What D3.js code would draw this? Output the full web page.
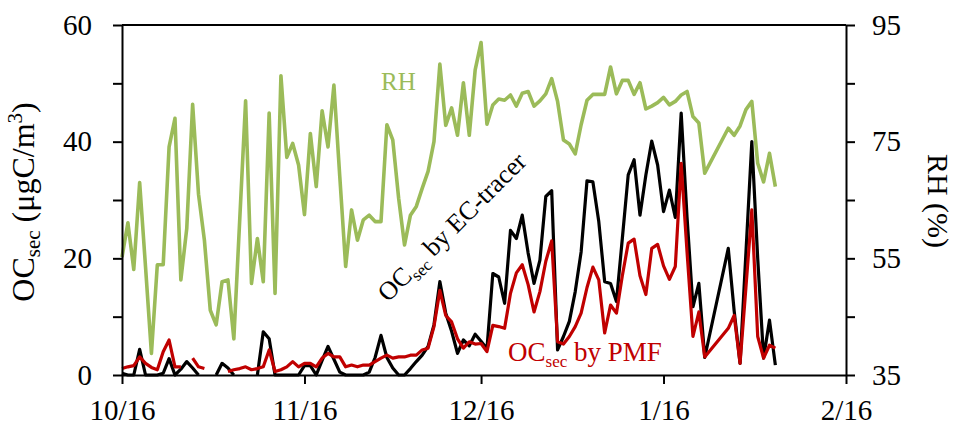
<!DOCTYPE html>
<html>
<head>
<meta charset="utf-8">
<script src="https://cdn.jsdelivr.net/npm/d3@7"></script>
<style>
  body { margin: 0; background: #fff; }
  svg text { font-family: "Liberation Serif", "Times New Roman", serif; }
</style>
</head>
<body>
<div id="chart"></div>
<script>
// day offsets from 10/16 (days 100-102 missing, lines connect across them)
const days = [
  0,1,2,3,4,5,6,7,8,9,10,11,12,13,14,15,16,17,18,19,
  20,21,22,23,24,25,26,27,28,29,30,31,32,33,34,35,36,37,38,39,
  40,41,42,43,44,45,46,47,48,49,50,51,52,53,54,55,56,57,58,59,
  60,61,62,63,64,65,66,67,68,69,70,71,72,73,74,75,76,77,78,79,
  80,81,82,83,84,85,86,87,88,89,90,91,92,93,94,95,96,97,98,99,
  103,104,105,106,107,108,109,110,111
];

// RH (%)
const rh = [
  55.2,61.1,53.1,68.0,53.5,38.7,53.9,53.9,74.1,79.0,
  51.3,60.1,81.4,66.0,58.1,46.1,43.6,51.0,51.3,41.2,
  61.6,82.0,50.7,58.4,51.0,79.9,49.0,86.3,72.3,74.7,
  71.0,62.5,76.4,67.3,80.3,74.1,84.7,69.0,53.6,63.3,
  58.1,61.6,62.4,61.3,61.3,77.9,75.3,65.3,57.3,62.4,
  63.9,67.0,69.9,75.0,88.3,77.8,80.8,76.1,85.1,76.1,
  87.3,92.0,78.0,81.3,82.3,82.1,83.0,81.1,83.3,83.6,
  81.1,82.0,83.2,85.8,81.9,75.3,74.6,72.9,77.9,82.1,
  83.1,83.1,83.1,87.8,83.2,85.5,85.5,83.1,85.1,80.6,
  81.1,81.7,82.6,81.3,81.9,83.0,83.6,79.3,78.2,69.6,
  77.3,76.1,77.7,80.5,81.9,71.3,68.1,73.0,67.3
];

// OCsec by EC-tracer (ugC/m3), null = no data
const ocEC = [
  0.3,0,0,4.4,0,0,0,0.3,2.8,0,
  1.0,2.3,1.2,0,null,null,0,2.0,1.2,0,
  null,null,null,0,7.4,6.2,0,0,0,0,
  0,1.6,1.6,0,2.5,4.9,2.7,0.5,0,0,
  0,0,0.5,3.0,6.8,3.0,1.2,0,0,1.1,
  2.3,3.4,4.9,8.6,16.0,10.6,7.5,3.7,6.0,5.0,
  7.0,5.8,4.5,17.4,16.8,12.3,24.8,23.4,27.4,20.9,
  15.7,19.7,30.6,31.6,4.3,6.6,9.2,14.3,21.1,33.3,
  33.1,26.3,16.0,15.7,12.6,23.4,34.3,36.9,27.4,34.3,
  40.1,36.0,28.0,31.7,27.0,44.9,27.0,11.7,15.7,3.0,
  21.7,11.0,2.0,21.0,40.0,20.0,2.9,9.4,1.7
];

// OCsec by PMF (ugC/m3), null = no data
const ocPMF = [
  1.1,1.4,1.6,3.1,2.0,1.3,0.9,4.0,6.0,1.4,
  1.4,null,2.9,1.4,1.1,null,null,null,0.6,0.9,
  1.1,1.4,0.9,1.1,1.4,4.3,0.6,0.9,1.4,2.3,
  1.4,2.0,2.0,1.4,2.9,3.7,3.1,3.1,1.4,1.7,
  1.4,1.7,1.7,2.3,2.9,3.4,2.9,3.1,3.1,3.4,
  3.4,4.3,4.6,8.3,14.5,10.2,9.1,6.2,4.6,5.7,
  5.3,5.4,4.0,8.5,8.3,8.0,14.0,17.5,18.9,15.5,
  10.8,14.3,19.5,23.0,5.7,5.3,6.6,8.3,10.6,15.0,
  18.5,16.3,7.2,12.0,10.6,17.0,22.6,23.3,17.0,13.8,
  21.7,22.4,18.7,16.4,18.6,36.3,21.0,6.6,10.8,3.1,
  8.0,10.2,2.0,15.0,28.3,6.6,2.9,5.1,4.6
];

const leftTicks = [0, 10, 20, 30, 40, 50, 60];
const rightTicks = [35, 45, 55, 65, 75, 85, 95];
const monthTicks = ['10/16', '11/16', '12/16', '1/16', '2/16'];

const width = 954, height = 425;
const margin = { left: 122, right: 108, top: 25, bottom: 50 };

const parse = d3.timeParse('%Y/%m/%d');
const start = parse('2013/10/16');
const tickDates = monthTicks.map((t, i) => parse((i < 3 ? '2013/' : '2014/') + t));

const x = d3.scaleTime()
  .domain([tickDates[0], tickDates[tickDates.length - 1]])
  .range([margin.left, width - margin.right]);
const y = d3.scaleLinear().domain([0, 60]).range([height - margin.bottom, margin.top]);
const yR = d3.scaleLinear().domain([35, 95]).range([height - margin.bottom, margin.top]);

const svg = d3.select('#chart').append('svg')
  .attr('width', width)
  .attr('height', height);

const dateOf = d => d3.timeDay.offset(start, d);

function series(values) {
  return days.map((d, i) => ({ date: dateOf(d), v: values[i] }));
}

const lineL = d3.line()
  .defined(d => d.v !== null)
  .x(d => x(d.date))
  .y(d => y(d.v));
const lineR = d3.line()
  .defined(d => d.v !== null)
  .x(d => x(d.date))
  .y(d => yR(d.v));

svg.append('path')
  .datum(series(rh))
  .attr('fill', 'none')
  .attr('stroke', '#9bbb59')
  .attr('stroke-width', 3.6)
  .attr('stroke-linejoin', 'round')
  .attr('d', lineR);

svg.append('path')
  .datum(series(ocEC))
  .attr('fill', 'none')
  .attr('stroke', '#000')
  .attr('stroke-width', 3.2)
  .attr('stroke-linejoin', 'round')
  .attr('d', lineL);

svg.append('path')
  .datum(series(ocPMF))
  .attr('fill', 'none')
  .attr('stroke', '#c00000')
  .attr('stroke-width', 3.2)
  .attr('stroke-linejoin', 'round')
  .attr('d', lineL);

// top border
svg.append('line')
  .attr('x1', margin.left).attr('x2', width - margin.right)
  .attr('y1', margin.top).attr('y2', margin.top)
  .attr('stroke', '#000').attr('stroke-width', 2);

const gL = svg.append('g')
  .attr('transform', 'translate(' + margin.left + ',0)')
  .call(d3.axisLeft(y).tickValues(leftTicks).tickSize(9).tickSizeOuter(0).tickPadding(21)
    .tickFormat(d => d % 20 === 0 ? d : ''));

const gR = svg.append('g')
  .attr('transform', 'translate(' + (width - margin.right) + ',0)')
  .call(d3.axisRight(yR).tickValues(rightTicks).tickSize(9).tickSizeOuter(0).tickPadding(17)
    .tickFormat(d => (d - 35) % 20 === 0 ? d : ''));

const gB = svg.append('g')
  .attr('transform', 'translate(0,' + (height - margin.bottom) + ')')
  .call(d3.axisBottom(x).tickValues(tickDates).tickSize(9).tickSizeOuter(0).tickPadding(15)
    .tickFormat((d, i) => monthTicks[i]));

[gL, gR, gB].forEach(g => {
  g.selectAll('path, line').attr('stroke', '#000').attr('stroke-width', 2);
  g.selectAll('text')
    .attr('fill', '#000')
    .style('font-family', '"Liberation Serif", serif')
    .style('font-size', '29px');
});

// axis titles
const tL = svg.append('text')
  .attr('transform', 'translate(34,202)rotate(-90)')
  .attr('text-anchor', 'middle')
  .style('font-size', '32px')
  .attr('fill', '#000');
tL.append('tspan').text('OC');
tL.append('tspan').text('sec').style('font-size', '21px').attr('dy', 6);
tL.append('tspan').text(' (μgC/m').attr('dy', -6);
tL.append('tspan').text('3').style('font-size', '21px').attr('dy', -12);
tL.append('tspan').text(')').attr('dy', 12);

svg.append('text')
  .attr('transform', 'translate(928,201)rotate(90)')
  .attr('text-anchor', 'middle')
  .style('font-size', '30px')
  .attr('fill', '#000')
  .text('RH (%)');

// series labels
svg.append('text')
  .attr('x', 381).attr('y', 90)
  .style('font-size', '25px')
  .attr('fill', '#9bbb59')
  .text('RH');

const tE = svg.append('text')
  .attr('transform', 'translate(388,303)rotate(-45)')
  .style('font-size', '26px')
  .attr('fill', '#000');
tE.append('tspan').text('OC');
tE.append('tspan').text('sec').style('font-size', '17px').attr('dy', 6);
tE.append('tspan').text(' by EC-tracer').attr('dy', -6);

const tP = svg.append('text')
  .attr('x', 508).attr('y', 361)
  .style('font-size', '27px')
  .attr('fill', '#c00000');
tP.append('tspan').text('OC');
tP.append('tspan').text('sec').style('font-size', '17px').attr('dy', 6);
tP.append('tspan').text(' by PMF').attr('dy', -6);
</script>
</body>
</html>
